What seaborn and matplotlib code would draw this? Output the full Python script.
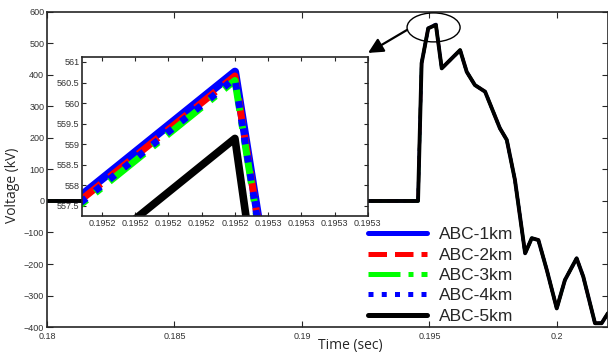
import numpy as np
import pandas as pd
import seaborn as sns
import matplotlib.pyplot as plt
from matplotlib.patches import Ellipse

# ---------------------------------------------------------
# data
# ---------------------------------------------------------
labels = ['ABC-1km', 'ABC-2km', 'ABC-3km', 'ABC-4km', 'ABC-5km']
colors = ['#0000ff', '#ff0000', '#00ff00', '#0000ff', '#000000']
styles = ['-', '--', '-.', ':', '-']

# main transient (all five cases lie on top of each other here)
time_s = [0.18, 0.1945, 0.19455, 0.19469, 0.19495, 0.19525, 0.19548, 0.19620,
          0.19646, 0.19678, 0.19718, 0.19776, 0.19803, 0.19835, 0.19875,
          0.19901, 0.19927, 0.19960, 0.19999, 0.20031, 0.20077, 0.20103,
          0.20149, 0.20175, 0.20200]
volt_kv = [0, 0, 0, 437, 548, 561, 421, 479, 410, 368, 347, 231, 194, 67,
           -166, -118, -124, -219, -341, -251, -182, -240, -388, -388, -356]
peak_idx = 5

# zoomed view around the peak
ins_t = [0.19519, 0.195245, 0.19526]
ins_v = {
    'ABC-1km': [557.18, 560.76, 553.15],
    'ABC-2km': [557.08, 560.66, 553.05],
    'ABC-3km': [556.97, 560.55, 552.95],
    'ABC-4km': [557.02, 560.60, 553.00],
    'ABC-5km': [555.55, 559.14, 550.60],
}
ins_ticks = [0.195205, 0.195215, 0.195225, 0.195235, 0.195245,
             0.195255, 0.195265, 0.195275, 0.195285]
ins_yticks = [557.5, 558, 558.5, 559, 559.5, 560, 560.5, 561]

sns.set_style('ticks')
plt.rcParams['font.family'] = ['Liberation Sans', 'DejaVu Sans']

rows = []
for lab in labels:
    v = list(volt_kv)
    v[peak_idx] = ins_v[lab][1]
    for t, y in zip(time_s, v):
        rows.append({'t': t, 'v': y, 'case': lab})
df = pd.DataFrame(rows)

rows = []
for lab in labels:
    for t, y in zip(ins_t, ins_v[lab]):
        rows.append({'t': t, 'v': y, 'case': lab})
dfi = pd.DataFrame(rows)

fig = plt.figure(figsize=(6.08, 3.52), dpi=100)
ax = fig.add_axes([0.0773, 0.071, 0.9227, 0.895])

lw_main = [2.2, 2.2, 2.2, 2.2, 2.8]
for lab, c, ls, lw in zip(labels, colors, styles, lw_main):
    sns.lineplot(data=df[df['case'] == lab], x='t', y='v', ax=ax, color=c,
                 linestyle=ls, linewidth=lw, label=lab, sort=False)

ax.set_xlim(0.18, 0.202)
ax.set_ylim(-400, 600)
ax.set_xticks([0.18, 0.185, 0.19, 0.195, 0.2])
ax.set_xticklabels(['0.18', '0.185', '0.19', '0.195', '0.2'])
ax.set_yticks(range(-400, 601, 100))
ax.tick_params(direction='in', top=True, right=True, labelsize=6.5,
               labelcolor='#333333', length=4, width=0.8, pad=2)
ax.tick_params(axis='x', pad=3.5)
for s in ax.spines.values():
    s.set_linewidth(1.2)
ax.set_xlabel('Time (sec)', family=['Open Sans', 'DejaVu Sans'], fontsize=10)
ax.set_ylabel('Voltage (kV)', family=['Open Sans', 'DejaVu Sans'], fontsize=10)
ax.xaxis.set_label_coords(0.5 + 23 / 561, -0.035)
ax.yaxis.set_label_coords(-0.048, 0.45)

leg = ax.legend(loc='lower left', bbox_to_anchor=(0.572, 0.01), frameon=False,
                fontsize=12.5, handlelength=3.4, handletextpad=0.7,
                labelspacing=0.3, borderpad=0, borderaxespad=0)
for h in leg.get_lines():
    h.set_linewidth(3.6)

# ellipse around the peak and arrow toward the inset
ax.add_patch(Ellipse((0.19516, 551), 0.00208, 92, fill=False,
                     edgecolor='black', linewidth=1.0, zorder=5))
ax.annotate('', xy=(0.19259, 470), xytext=(0.19412, 543),
            arrowprops=dict(arrowstyle='-|>,head_length=0.9,head_width=0.45',
                            color='black', linewidth=1.6,
                            shrinkA=0, shrinkB=0))

# inset
axi = fig.add_axes([0.135, 0.386, 0.470, 0.452])
lw_ins = [6, 5, 5, 5, 5.5]
for lab, c, ls, lw in zip(labels, colors, styles, lw_ins):
    sns.lineplot(data=dfi[dfi['case'] == lab], x='t', y='v', ax=axi, color=c,
                 linestyle=ls, linewidth=lw, legend=False, sort=False)
axi.set_xlim(0.195199, 0.195285)
axi.set_ylim(557.25, 561.12)
axi.set_xticks(ins_ticks)
axi.set_xticklabels(['%.4f' % t for t in ins_ticks])
axi.set_yticks(ins_yticks)
axi.set_yticklabels(['%g' % v for v in ins_yticks])
axi.set_xlabel('')
axi.set_ylabel('')
axi.tick_params(direction='in', top=True, right=True, labelsize=6.5,
                labelcolor='#333333', length=3, width=0.8, pad=2)
for s in axi.spines.values():
    s.set_linewidth(1.2)

fig.savefig('out.png', dpi=100)
